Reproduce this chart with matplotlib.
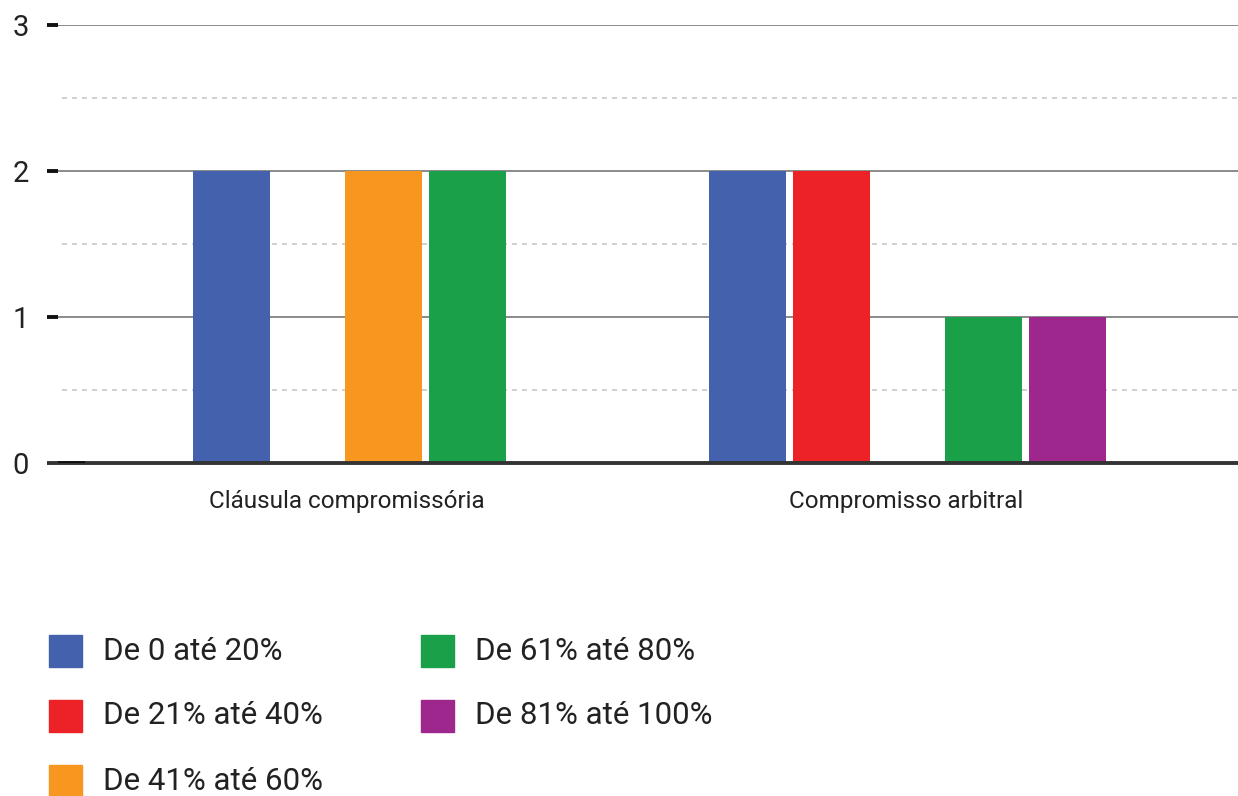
import matplotlib
matplotlib.use("Agg")
import matplotlib.pyplot as plt
from matplotlib.patches import Rectangle

plt.rcParams['font.family'] = ['Roboto', 'DejaVu Sans']

categories = ["Cláusula compromissória", "Compromisso arbitral"]
series_labels = ["De 0 até 20%", "De 21% até 40%", "De 41% até 60%",
                 "De 61% até 80%", "De 81% até 100%"]
series_colors = ["#4361AC", "#EC2227", "#F7971F", "#1BA04A", "#9E278E"]
# values[series][category]
v_0_20 = [2, 2]
v_21_40 = [0, 2]
v_41_60 = [2, 0]
v_61_80 = [2, 1]
v_81_100 = [0, 1]
values = [v_0_20, v_21_40, v_41_60, v_61_80, v_81_100]
y_ticks = [0, 1, 2, 3]

W, H = 1238, 796
fig = plt.figure(figsize=(W / 100, H / 100), dpi=100)
left_px, right_px, top_px, bottom_px = 47, 1238, 25, 463
ax = fig.add_axes([left_px / W, 1 - bottom_px / H, (right_px - left_px) / W,
                   (bottom_px - top_px) / H])
ax.set_xlim(left_px, right_px)
ax.set_ylim(0, 3)
for s in ax.spines.values():
    s.set_visible(False)
ax.set_xticks([])
ax.set_yticks(y_ticks)
ax.set_yticklabels([str(t) for t in y_ticks], fontsize=21, color="#222222")
ax.tick_params(axis='y', length=0, pad=13)

# grid
for t in y_ticks[1:]:
    ax.hlines(t, 58, right_px, color="#8a8a8a", lw=1.4, zorder=1)
    ax.hlines(t, left_px, 58, color="#111111", lw=2.8, zorder=2, clip_on=False)
for t in [0.5, 1.5, 2.5]:
    ax.hlines(t, 62, right_px, color="#c8c8c8", lw=1.2, linestyles=(0, (3, 3)), zorder=1)

# bars
group_starts = [192.5, 709]
bar_w = 77
step_full = 84
step_zero = 68
for ci, gs in enumerate(group_starts):
    x = gs
    for si in range(len(values)):
        v = values[si][ci]
        if v > 0:
            ax.bar(x, v, width=bar_w, align='edge', color=series_colors[si],
                   zorder=3, linewidth=0)
            x += step_full
        else:
            x += step_zero

ax.hlines(0, left_px, right_px, color="#333333", lw=2.8, zorder=4, clip_on=False)
ax.hlines(0, 58, 85, color="#111111", lw=2.8, zorder=5)

label_centers = [347, 906]
for c, xc in zip(categories, label_centers):
    ax.text(xc, -0.262, c, ha='center', va='center', fontsize=17.5, color="#222222")

# legend
legend_pos = [(49, 651), (49, 716), (49, 781), (421, 651), (421, 716)]
for (lx, ly), lab, col in zip(legend_pos, series_labels, series_colors):
    fig.patches.append(Rectangle((lx / W, 1 - (ly + 16) / H), 33 / W, 32 / H,
                                 transform=fig.transFigure, color=col))
    fig.text((lx + 54) / W, 1 - ly / H, lab, ha='left', va='center',
             fontsize=22.5, color="#222222")

fig.savefig("out.png", dpi=100)
